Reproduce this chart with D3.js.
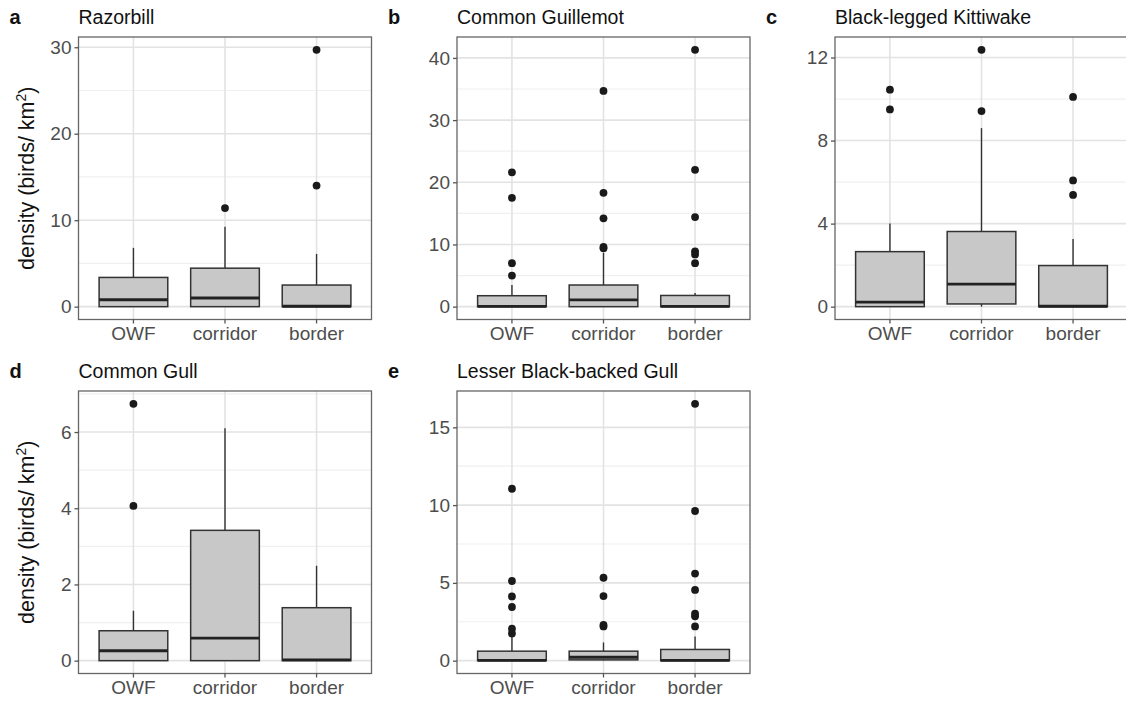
<!DOCTYPE html>
<html>
<head>
<meta charset="utf-8">
<script src="https://cdn.jsdelivr.net/npm/d3@7"></script>
<style>
  body { margin: 0; background: #fff; }
  svg { display: block; font-family: "Liberation Sans", Arial, Helvetica, sans-serif; }
</style>
</head>
<body>
<div id="chart"></div>
<script>
// data: each box is [lower whisker, q1, median, q3, upper whisker]
const categories = ["OWF", "corridor", "border"];
const panelLetters = ["a", "b", "c", "d", "e"];
const speciesNames = ["Razorbill", "Common Guillemot", "Black-legged Kittiwake", "Common Gull", "Lesser Black-backed Gull"];

const razorbillBoxes = [[0, 0, 0.8, 3.38, 6.8], [0, 0, 1.0, 4.45, 9.25], [0, 0, 0.05, 2.5, 6.1]];
const razorbillOutliers = [[], [11.4], [14.0, 29.7]];
const razorbillTicks = [0, 10, 20, 30];
const razorbillMinor = [5, 15, 25];

const guillemotBoxes = [[0, 0, 0.05, 1.76, 3.5], [0, 0, 1.1, 3.48, 8.7], [0, 0, 0.05, 1.8, 2.2]];
const guillemotOutliers = [[5.0, 7.0, 17.5, 21.6], [9.4, 9.6, 14.2, 18.3, 34.7], [7.0, 8.4, 8.9, 14.4, 22.0, 41.3]];
const guillemotTicks = [0, 10, 20, 30, 40];
const guillemotMinor = [5, 15, 25, 35];

const kittiwakeBoxes = [[0, 0, 0.22, 2.65, 4.0], [0, 0.13, 1.09, 3.62, 8.6], [0, 0, 0.02, 1.98, 3.26]];
const kittiwakeOutliers = [[9.5, 10.45], [9.42, 12.37], [5.38, 6.08, 10.1]];
const kittiwakeTicks = [0, 4, 8, 12];
const kittiwakeMinor = [2, 6, 10];

const commonGullBoxes = [[0, 0, 0.26, 0.785, 1.31], [0, 0, 0.59, 3.42, 6.1], [0, 0, 0.02, 1.39, 2.49]];
const commonGullOutliers = [[4.06, 6.74], [], []];
const commonGullTicks = [0, 2, 4, 6];
const commonGullMinor = [1, 3, 5, 7];

const lbbGullBoxes = [[0, 0, 0.02, 0.61, 1.6], [0, 0.05, 0.22, 0.61, 1.17], [0, 0, 0.02, 0.72, 1.56]];
const lbbGullOutliers = [[1.75, 2.05, 3.45, 4.13, 5.12, 11.05], [2.2, 2.3, 4.15, 5.33], [2.2, 2.85, 3.03, 4.55, 5.6, 9.62, 16.51]];
const lbbGullTicks = [0, 5, 10, 15];
const lbbGullMinor = [2.5, 7.5, 12.5, 17.5];

const panels = [
    { boxes: razorbillBoxes, outliers: razorbillOutliers, ticks: razorbillTicks, minor: razorbillMinor },
    { boxes: guillemotBoxes, outliers: guillemotOutliers, ticks: guillemotTicks, minor: guillemotMinor },
    { boxes: kittiwakeBoxes, outliers: kittiwakeOutliers, ticks: kittiwakeTicks, minor: kittiwakeMinor },
    { boxes: commonGullBoxes, outliers: commonGullOutliers, ticks: commonGullTicks, minor: commonGullMinor },
    { boxes: lbbGullBoxes, outliers: lbbGullOutliers, ticks: lbbGullTicks, minor: lbbGullMinor }
];

// layout
const W = 1126, H = 702;
const panelW = 293, panelH = 282.5;
const origins = [[78.5, 37], [457, 37], [835, 37], [78.5, 391], [457, 391]];

const svg = d3.select("#chart").append("svg")
    .attr("width", W)
    .attr("height", H);

panels.forEach((p, i) => {
    const [ox, oy] = origins[i];
    const g = svg.append("g").attr("transform", `translate(${ox},${oy})`);

    const x = d3.scaleBand()
        .domain(categories)
        .range([0, panelW])
        .paddingInner(0.25)
        .paddingOuter(0.225);

    const maxVal = d3.max([...p.boxes.map(b => b[4]), ...p.outliers.flat()]);
    const y = d3.scaleLinear()
        .domain([-0.05 * maxVal, maxVal * 1.05])
        .range([panelH, 0]);

    // minor grid
    g.selectAll(".minor")
        .data(p.minor.filter(v => v <= y.domain()[1]))
        .enter().append("line")
        .attr("x1", 0).attr("x2", panelW)
        .attr("y1", d => y(d)).attr("y2", d => y(d))
        .attr("stroke", "#f0f0f0")
        .attr("stroke-width", 1.2);

    // major grid
    g.selectAll(".major")
        .data(p.ticks)
        .enter().append("line")
        .attr("x1", 0).attr("x2", panelW)
        .attr("y1", d => y(d)).attr("y2", d => y(d))
        .attr("stroke", "#e3e3e3")
        .attr("stroke-width", 1.6);

    g.selectAll(".vgrid")
        .data(categories)
        .enter().append("line")
        .attr("x1", d => x(d) + x.bandwidth() / 2)
        .attr("x2", d => x(d) + x.bandwidth() / 2)
        .attr("y1", 0).attr("y2", panelH)
        .attr("stroke", "#e3e3e3")
        .attr("stroke-width", 1.6);

    // boxes
    const boxG = g.selectAll(".box")
        .data(p.boxes)
        .enter().append("g")
        .attr("class", "box");

    const cx = (d, j) => x(categories[j]) + x.bandwidth() / 2;

    boxG.append("line")
        .attr("x1", cx).attr("x2", cx)
        .attr("y1", d => y(d[3])).attr("y2", d => y(d[4]))
        .attr("stroke", "#333")
        .attr("stroke-width", 1.4);

    boxG.append("line")
        .attr("x1", cx).attr("x2", cx)
        .attr("y1", d => y(d[1])).attr("y2", d => y(d[0]))
        .attr("stroke", "#333")
        .attr("stroke-width", 1.4);

    boxG.append("rect")
        .attr("x", (d, j) => x(categories[j]))
        .attr("width", x.bandwidth())
        .attr("y", d => y(d[3]))
        .attr("height", d => y(d[1]) - y(d[3]))
        .attr("fill", "#c8c8c8")
        .attr("stroke", "#333")
        .attr("stroke-width", 1.5);

    boxG.append("line")
        .attr("x1", (d, j) => x(categories[j]))
        .attr("x2", (d, j) => x(categories[j]) + x.bandwidth())
        .attr("y1", d => y(d[2])).attr("y2", d => y(d[2]))
        .attr("stroke", "#222")
        .attr("stroke-width", 2.8);

    // outliers
    p.outliers.forEach((vals, j) => {
        g.selectAll(null)
            .data(vals)
            .enter().append("circle")
            .attr("cx", x(categories[j]) + x.bandwidth() / 2)
            .attr("cy", d => y(d))
            .attr("r", 3.9)
            .attr("fill", "#1a1a1a");
    });

    // panel border
    g.append("rect")
        .attr("width", panelW)
        .attr("height", panelH)
        .attr("fill", "none")
        .attr("stroke", "#666")
        .attr("stroke-width", 1.3);

    // axes
    const yAxis = g.append("g")
        .call(d3.axisLeft(y).tickValues(p.ticks).tickSize(4).tickPadding(3).tickFormat(d3.format("d")));
    yAxis.select(".domain").remove();
    yAxis.selectAll(".tick line").attr("stroke", "#555").attr("stroke-width", 1.3);
    yAxis.selectAll(".tick text")
        .attr("fill", "#4d4d4d")
        .style("font-size", "19px")
        .style("font-family", "'Liberation Sans', Arial, sans-serif");

    const xAxis = g.append("g")
        .attr("transform", `translate(0,${panelH})`)
        .call(d3.axisBottom(x).tickSize(4).tickPadding(3));
    xAxis.select(".domain").remove();
    xAxis.selectAll(".tick line").attr("stroke", "#555").attr("stroke-width", 1.3);
    xAxis.selectAll(".tick text")
        .attr("fill", "#4d4d4d")
        .style("font-size", "19px")
        .style("font-family", "'Liberation Sans', Arial, sans-serif");

    // title and panel letter
    svg.append("text")
        .attr("x", ox)
        .attr("y", oy - 13)
        .attr("fill", "#111")
        .style("font-size", "19.5px")
        .text(speciesNames[i]);

    svg.append("text")
        .attr("x", ox - 69)
        .attr("y", oy - 13)
        .attr("fill", "#111")
        .style("font-size", "20px")
        .style("font-weight", "bold")
        .text(panelLetters[i]);

    // y label for the left column
    if (i === 0 || i === 3) {
        const lbl = svg.append("text")
            .attr("transform", `translate(34,${oy + panelH / 2}) rotate(-90)`)
            .attr("text-anchor", "middle")
            .attr("fill", "#111")
            .style("font-size", "21.5px");
        lbl.append("tspan").text("density (birds/ km");
        lbl.append("tspan").attr("dy", -8).style("font-size", "14px").text("2");
        lbl.append("tspan").attr("dy", 8).text(")");
    }
});
</script>
</body>
</html>
